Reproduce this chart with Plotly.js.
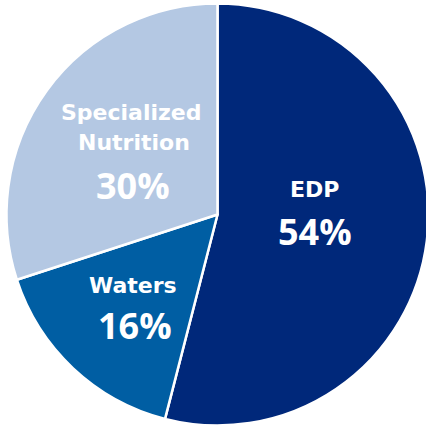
<!DOCTYPE html>
<html>
<head>
<meta charset="utf-8">
<script src="https://cdn.plot.ly/plotly-3.0.1.min.js"></script>
<style>
html,body{margin:0;padding:0;background:#fff;width:426px;height:427px;overflow:hidden;}
#chart{position:absolute;left:-17px;top:-17px;width:460px;height:460px;}
</style>
</head>
<body>
<div id="chart"></div>
<script>
const categories = ['EDP', 'Waters', 'Specialized Nutrition'];
const labelLines = [['EDP'], ['Waters'], ['Specialized', 'Nutrition']];
const shares = [54, 16, 30];
const colors = ['#00287a', '#005ea3', '#b4c8e3'];

// plot canvas is larger than the page and shifted by OFF so the pie can touch the page edge
const S = 460, OFF = 17;
const px = x => (x + OFF) / S;
const py = y => 1 - (y + OFF) / S;

// pie centre and half-size of its domain, page pixels
const cx = 217.5, cy = 214.5, half = 211;

// label placement (page pixel centres) per slice: name lines and percentage
const namePos = [
  [[314.5, 190]],
  [[132.5, 285]],
  [[131, 112], [133.5, 142.5]]
];
const pctPos = [[314.5, 231], [134.5, 325], [132.5, 185]];

const nameFont = '"DejaVu Sans", sans-serif';
const pctFont = '"Open Sans", sans-serif';
const annotations = [];
categories.forEach((c, i) => {
  labelLines[i].forEach((line, j) => {
    annotations.push({
      x: px(namePos[i][j][0]), y: py(namePos[i][j][1]), xref: 'paper', yref: 'paper',
      text: '<b>' + line + '</b>', showarrow: false, xanchor: 'center', yanchor: 'middle',
      font: {family: nameFont, size: 22, color: '#ffffff'}
    });
  });
  annotations.push({
    x: px(pctPos[i][0]), y: py(pctPos[i][1]), xref: 'paper', yref: 'paper',
    text: '<b>' + shares[i] + '%</b>', showarrow: false, xanchor: 'center', yanchor: 'middle',
    font: {family: pctFont, size: 36, color: '#ffffff'}
  });
});

const data = [{
  type: 'pie',
  labels: categories,
  values: shares,
  sort: false,
  direction: 'clockwise',
  rotation: 0,
  textinfo: 'none',
  hoverinfo: 'label+percent',
  marker: {colors: colors, line: {color: '#ffffff', width: 2.5}},
  domain: {x: [px(cx - half), px(cx + half)], y: [py(cy + half), py(cy - half)]}
}];

const layout = {
  width: S, height: S,
  margin: {l: 0, r: 0, t: 0, b: 0},
  showlegend: false,
  paper_bgcolor: '#ffffff',
  annotations: annotations
};

Plotly.newPlot('chart', data, layout, {displayModeBar: false, staticPlot: true});
</script>
</body>
</html>
